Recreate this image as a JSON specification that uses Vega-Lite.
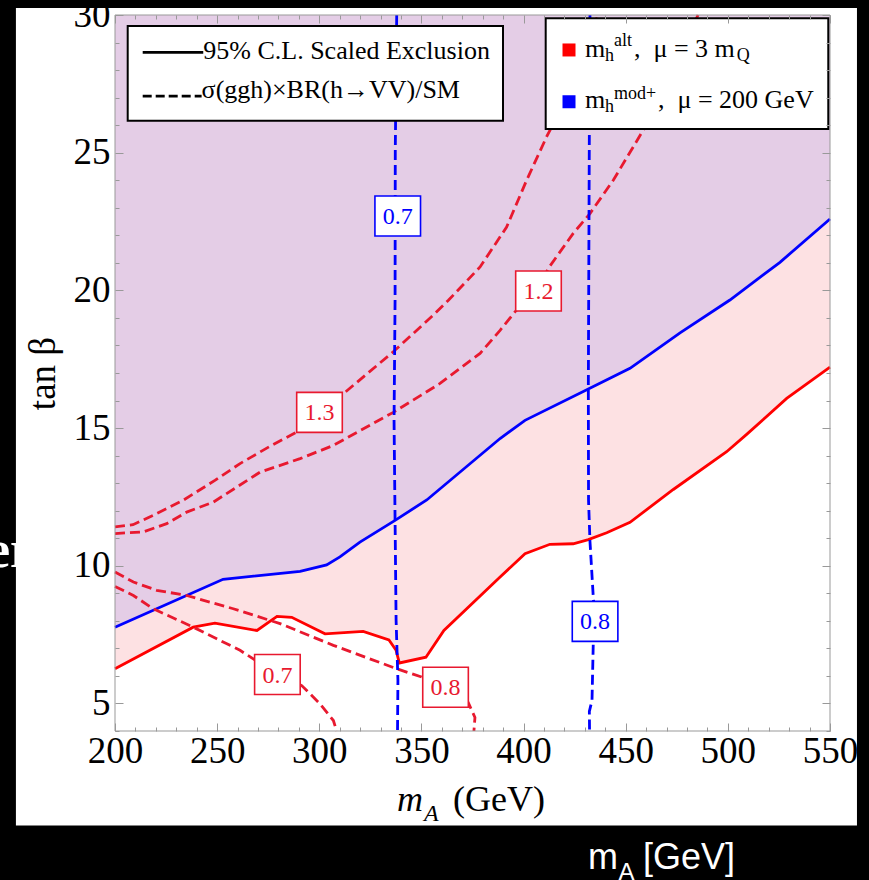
{
  "$schema": "https://vega.github.io/schema/vega-lite/v6.json",
  "width": 715,
  "height": 716,
  "autosize": {"type": "none"},
  "padding": {"left": 115, "top": 15, "right": 39, "bottom": 149},
  "background": "black",
  "config": {"view": {"stroke": null}, "font": "Liberation Serif"},
  "data": {"values": [{}]},
  "datasets": {
    "curves": [
      {"c": "alt-excl", "model": "alt", "kind": "excl", "i": 0, "x": 200, "y": 6.26},
      {"c": "alt-excl", "model": "alt", "kind": "excl", "i": 1, "x": 238.3, "y": 7.77},
      {"c": "alt-excl", "model": "alt", "kind": "excl", "i": 2, "x": 248.9, "y": 7.92},
      {"c": "alt-excl", "model": "alt", "kind": "excl", "i": 3, "x": 269.5, "y": 7.65},
      {"c": "alt-excl", "model": "alt", "kind": "excl", "i": 4, "x": 279.3, "y": 8.16},
      {"c": "alt-excl", "model": "alt", "kind": "excl", "i": 5, "x": 286.5, "y": 8.13},
      {"c": "alt-excl", "model": "alt", "kind": "excl", "i": 6, "x": 302.8, "y": 7.53},
      {"c": "alt-excl", "model": "alt", "kind": "excl", "i": 7, "x": 321.5, "y": 7.62},
      {"c": "alt-excl", "model": "alt", "kind": "excl", "i": 8, "x": 334.1, "y": 7.31},
      {"c": "alt-excl", "model": "alt", "kind": "excl", "i": 9, "x": 337.6, "y": 6.93},
      {"c": "alt-excl", "model": "alt", "kind": "excl", "i": 10, "x": 339.2, "y": 6.47},
      {"c": "alt-excl", "model": "alt", "kind": "excl", "i": 11, "x": 352.2, "y": 6.68},
      {"c": "alt-excl", "model": "alt", "kind": "excl", "i": 12, "x": 361.0, "y": 7.65},
      {"c": "alt-excl", "model": "alt", "kind": "excl", "i": 13, "x": 388.5, "y": 9.59},
      {"c": "alt-excl", "model": "alt", "kind": "excl", "i": 14, "x": 400.7, "y": 10.44},
      {"c": "alt-excl", "model": "alt", "kind": "excl", "i": 15, "x": 412.9, "y": 10.78},
      {"c": "alt-excl", "model": "alt", "kind": "excl", "i": 16, "x": 424.3, "y": 10.8},
      {"c": "alt-excl", "model": "alt", "kind": "excl", "i": 17, "x": 431.7, "y": 10.95},
      {"c": "alt-excl", "model": "alt", "kind": "excl", "i": 18, "x": 440.7, "y": 11.2},
      {"c": "alt-excl", "model": "alt", "kind": "excl", "i": 19, "x": 452.1, "y": 11.58},
      {"c": "alt-excl", "model": "alt", "kind": "excl", "i": 20, "x": 473.3, "y": 12.77},
      {"c": "alt-excl", "model": "alt", "kind": "excl", "i": 21, "x": 499.4, "y": 14.14},
      {"c": "alt-excl", "model": "alt", "kind": "excl", "i": 22, "x": 509.2, "y": 14.77},
      {"c": "alt-excl", "model": "alt", "kind": "excl", "i": 23, "x": 528.8, "y": 16.08},
      {"c": "alt-excl", "model": "alt", "kind": "excl", "i": 24, "x": 550, "y": 17.21},

      {"c": "mod-excl", "model": "mod", "kind": "excl", "i": 0, "x": 200, "y": 7.77},
      {"c": "mod-excl", "model": "mod", "kind": "excl", "i": 1, "x": 252.9, "y": 9.51},
      {"c": "mod-excl", "model": "mod", "kind": "excl", "i": 2, "x": 290.6, "y": 9.8},
      {"c": "mod-excl", "model": "mod", "kind": "excl", "i": 3, "x": 303.6, "y": 10.03},
      {"c": "mod-excl", "model": "mod", "kind": "excl", "i": 4, "x": 310.1, "y": 10.32},
      {"c": "mod-excl", "model": "mod", "kind": "excl", "i": 5, "x": 319.9, "y": 10.86},
      {"c": "mod-excl", "model": "mod", "kind": "excl", "i": 6, "x": 337.1, "y": 11.65},
      {"c": "mod-excl", "model": "mod", "kind": "excl", "i": 7, "x": 352.6, "y": 12.39},
      {"c": "mod-excl", "model": "mod", "kind": "excl", "i": 8, "x": 388.5, "y": 14.62},
      {"c": "mod-excl", "model": "mod", "kind": "excl", "i": 9, "x": 400.7, "y": 15.28},
      {"c": "mod-excl", "model": "mod", "kind": "excl", "i": 10, "x": 431.7, "y": 16.42},
      {"c": "mod-excl", "model": "mod", "kind": "excl", "i": 11, "x": 452.1, "y": 17.17},
      {"c": "mod-excl", "model": "mod", "kind": "excl", "i": 12, "x": 476.6, "y": 18.46},
      {"c": "mod-excl", "model": "mod", "kind": "excl", "i": 13, "x": 501.0, "y": 19.65},
      {"c": "mod-excl", "model": "mod", "kind": "excl", "i": 14, "x": 525.5, "y": 21.02},
      {"c": "mod-excl", "model": "mod", "kind": "excl", "i": 15, "x": 550, "y": 22.59},

      {"c": "alt-1.3", "model": "alt", "kind": "ratio", "i": 0, "x": 200, "y": 11.41},
      {"c": "alt-1.3", "model": "alt", "kind": "ratio", "i": 1, "x": 208.8, "y": 11.49},
      {"c": "alt-1.3", "model": "alt", "kind": "ratio", "i": 2, "x": 218.7, "y": 11.83},
      {"c": "alt-1.3", "model": "alt", "kind": "ratio", "i": 3, "x": 233.4, "y": 12.38},
      {"c": "alt-1.3", "model": "alt", "kind": "ratio", "i": 4, "x": 248.9, "y": 13.1},
      {"c": "alt-1.3", "model": "alt", "kind": "ratio", "i": 5, "x": 261.2, "y": 13.71},
      {"c": "alt-1.3", "model": "alt", "kind": "ratio", "i": 6, "x": 275.9, "y": 14.34},
      {"c": "alt-1.3", "model": "alt", "kind": "ratio", "i": 7, "x": 289.1, "y": 14.86},
      {"c": "alt-1.3", "model": "alt", "kind": "ratio", "i": 8, "x": 300.1, "y": 15.55},
      {"c": "alt-1.3", "model": "alt", "kind": "ratio", "i": 9, "x": 311.8, "y": 16.25},
      {"c": "alt-1.3", "model": "alt", "kind": "ratio", "i": 10, "x": 336.2, "y": 17.77},
      {"c": "alt-1.3", "model": "alt", "kind": "ratio", "i": 11, "x": 355.8, "y": 19.1},
      {"c": "alt-1.3", "model": "alt", "kind": "ratio", "i": 12, "x": 363.2, "y": 19.64},
      {"c": "alt-1.3", "model": "alt", "kind": "ratio", "i": 13, "x": 378.7, "y": 20.85},
      {"c": "alt-1.3", "model": "alt", "kind": "ratio", "i": 14, "x": 391.7, "y": 22.3},
      {"c": "alt-1.3", "model": "alt", "kind": "ratio", "i": 15, "x": 401.5, "y": 24.0},
      {"c": "alt-1.3", "model": "alt", "kind": "ratio", "i": 16, "x": 411.3, "y": 25.58},
      {"c": "alt-1.3", "model": "alt", "kind": "ratio", "i": 17, "x": 425.2, "y": 27.6},
      {"c": "alt-1.3", "model": "alt", "kind": "ratio", "i": 18, "x": 436.4, "y": 30},

      {"c": "alt-1.2", "model": "alt", "kind": "ratio", "i": 0, "x": 200, "y": 11.17},
      {"c": "alt-1.2", "model": "alt", "kind": "ratio", "i": 1, "x": 213.9, "y": 11.23},
      {"c": "alt-1.2", "model": "alt", "kind": "ratio", "i": 2, "x": 225.3, "y": 11.53},
      {"c": "alt-1.2", "model": "alt", "kind": "ratio", "i": 3, "x": 235.1, "y": 11.95},
      {"c": "alt-1.2", "model": "alt", "kind": "ratio", "i": 4, "x": 248.1, "y": 12.31},
      {"c": "alt-1.2", "model": "alt", "kind": "ratio", "i": 5, "x": 271.0, "y": 13.4},
      {"c": "alt-1.2", "model": "alt", "kind": "ratio", "i": 6, "x": 290.6, "y": 13.89},
      {"c": "alt-1.2", "model": "alt", "kind": "ratio", "i": 7, "x": 306.9, "y": 14.37},
      {"c": "alt-1.2", "model": "alt", "kind": "ratio", "i": 8, "x": 336.2, "y": 15.57},
      {"c": "alt-1.2", "model": "alt", "kind": "ratio", "i": 9, "x": 359.1, "y": 16.62},
      {"c": "alt-1.2", "model": "alt", "kind": "ratio", "i": 10, "x": 378.7, "y": 17.71},
      {"c": "alt-1.2", "model": "alt", "kind": "ratio", "i": 11, "x": 388.5, "y": 18.55},
      {"c": "alt-1.2", "model": "alt", "kind": "ratio", "i": 12, "x": 395.8, "y": 19.22},
      {"c": "alt-1.2", "model": "alt", "kind": "ratio", "i": 13, "x": 407.3, "y": 20.05},
      {"c": "alt-1.2", "model": "alt", "kind": "ratio", "i": 14, "x": 412.1, "y": 20.8},
      {"c": "alt-1.2", "model": "alt", "kind": "ratio", "i": 15, "x": 424.3, "y": 22.07},
      {"c": "alt-1.2", "model": "alt", "kind": "ratio", "i": 16, "x": 432.5, "y": 22.79},
      {"c": "alt-1.2", "model": "alt", "kind": "ratio", "i": 17, "x": 443.9, "y": 24.0},
      {"c": "alt-1.2", "model": "alt", "kind": "ratio", "i": 18, "x": 458.6, "y": 25.82},
      {"c": "alt-1.2", "model": "alt", "kind": "ratio", "i": 19, "x": 472.7, "y": 28.0},
      {"c": "alt-1.2", "model": "alt", "kind": "ratio", "i": 20, "x": 485.4, "y": 30},

      {"c": "alt-0.8", "model": "alt", "kind": "ratio", "i": 0, "x": 200, "y": 9.77},
      {"c": "alt-0.8", "model": "alt", "kind": "ratio", "i": 1, "x": 209.0, "y": 9.41},
      {"c": "alt-0.8", "model": "alt", "kind": "ratio", "i": 2, "x": 220.4, "y": 9.11},
      {"c": "alt-0.8", "model": "alt", "kind": "ratio", "i": 3, "x": 235.1, "y": 8.92},
      {"c": "alt-0.8", "model": "alt", "kind": "ratio", "i": 4, "x": 257.9, "y": 8.44},
      {"c": "alt-0.8", "model": "alt", "kind": "ratio", "i": 5, "x": 280.8, "y": 7.9},
      {"c": "alt-0.8", "model": "alt", "kind": "ratio", "i": 6, "x": 306.9, "y": 7.11},
      {"c": "alt-0.8", "model": "alt", "kind": "ratio", "i": 7, "x": 337.9, "y": 6.26},
      {"c": "alt-0.8", "model": "alt", "kind": "ratio", "i": 8, "x": 350.1, "y": 5.96},
      {"c": "alt-0.8", "model": "alt", "kind": "ratio", "i": 9, "x": 361.8, "y": 5.59},
      {"c": "alt-0.8", "model": "alt", "kind": "ratio", "i": 10, "x": 372.9, "y": 5.04},
      {"c": "alt-0.8", "model": "alt", "kind": "ratio", "i": 11, "x": 376.2, "y": 4.49},
      {"c": "alt-0.8", "model": "alt", "kind": "ratio", "i": 12, "x": 375.7, "y": 4.0},

      {"c": "alt-0.7", "model": "alt", "kind": "ratio", "i": 0, "x": 200, "y": 9.25},
      {"c": "alt-0.7", "model": "alt", "kind": "ratio", "i": 1, "x": 209.0, "y": 8.92},
      {"c": "alt-0.7", "model": "alt", "kind": "ratio", "i": 2, "x": 218.7, "y": 8.44},
      {"c": "alt-0.7", "model": "alt", "kind": "ratio", "i": 3, "x": 238.3, "y": 7.77},
      {"c": "alt-0.7", "model": "alt", "kind": "ratio", "i": 4, "x": 249.8, "y": 7.35},
      {"c": "alt-0.7", "model": "alt", "kind": "ratio", "i": 5, "x": 261.2, "y": 6.93},
      {"c": "alt-0.7", "model": "alt", "kind": "ratio", "i": 6, "x": 279.5, "y": 6.05},
      {"c": "alt-0.7", "model": "alt", "kind": "ratio", "i": 7, "x": 291.4, "y": 5.65},
      {"c": "alt-0.7", "model": "alt", "kind": "ratio", "i": 8, "x": 300.3, "y": 4.99},
      {"c": "alt-0.7", "model": "alt", "kind": "ratio", "i": 9, "x": 306.9, "y": 4.38},
      {"c": "alt-0.7", "model": "alt", "kind": "ratio", "i": 10, "x": 308.5, "y": 4.0},

      {"c": "mod-0.7", "model": "mod", "kind": "ratio", "i": 0, "x": 337.9, "y": 30},
      {"c": "mod-0.7", "model": "mod", "kind": "ratio", "i": 1, "x": 337.2, "y": 25.1},
      {"c": "mod-0.7", "model": "mod", "kind": "ratio", "i": 2, "x": 337.1, "y": 19.64},
      {"c": "mod-0.7", "model": "mod", "kind": "ratio", "i": 3, "x": 336.6, "y": 15.28},
      {"c": "mod-0.7", "model": "mod", "kind": "ratio", "i": 4, "x": 337.1, "y": 11.65},
      {"c": "mod-0.7", "model": "mod", "kind": "ratio", "i": 5, "x": 337.6, "y": 8.02},
      {"c": "mod-0.7", "model": "mod", "kind": "ratio", "i": 6, "x": 338.5, "y": 5.84},
      {"c": "mod-0.7", "model": "mod", "kind": "ratio", "i": 7, "x": 338.3, "y": 4.0},

      {"c": "mod-0.8", "model": "mod", "kind": "ratio", "i": 0, "x": 432.5, "y": 30},
      {"c": "mod-0.8", "model": "mod", "kind": "ratio", "i": 1, "x": 432.2, "y": 25.82},
      {"c": "mod-0.8", "model": "mod", "kind": "ratio", "i": 2, "x": 431.7, "y": 16.41},
      {"c": "mod-0.8", "model": "mod", "kind": "ratio", "i": 3, "x": 431.8, "y": 12.38},
      {"c": "mod-0.8", "model": "mod", "kind": "ratio", "i": 4, "x": 432.5, "y": 10.89},
      {"c": "mod-0.8", "model": "mod", "kind": "ratio", "i": 5, "x": 434.1, "y": 8.89},
      {"c": "mod-0.8", "model": "mod", "kind": "ratio", "i": 6, "x": 435.0, "y": 7.98},
      {"c": "mod-0.8", "model": "mod", "kind": "ratio", "i": 7, "x": 434.1, "y": 7.14},
      {"c": "mod-0.8", "model": "mod", "kind": "ratio", "i": 8, "x": 433.5, "y": 5.11},
      {"c": "mod-0.8", "model": "mod", "kind": "ratio", "i": 9, "x": 432.2, "y": 4.71},
      {"c": "mod-0.8", "model": "mod", "kind": "ratio", "i": 10, "x": 432.3, "y": 4.0}
    ],
    "contourLabels": [
      {"model": "alt", "x": 300.1, "y": 15.57, "text": "1.3"},
      {"model": "alt", "x": 407.3, "y": 19.98, "text": "1.2"},
      {"model": "alt", "x": 279.5, "y": 6.05, "text": "0.7"},
      {"model": "alt", "x": 361.8, "y": 5.59, "text": "0.8"},
      {"model": "mod", "x": 338.4, "y": 22.7, "text": "0.7"},
      {"model": "mod", "x": 435.0, "y": 7.98, "text": "0.8"}
    ],
    "legendKeys": [
      {"model": "alt", "x": 422.24, "y": 28.73},
      {"model": "mod", "x": 422.24, "y": 26.85}
    ],
    "legendText": [
      {"x": 243.2, "y": 28.39, "text": "95% C.L. Scaled Exclusion", "role": "main"},
      {"x": 242.4, "y": 26.97, "text": "σ(ggh)×BR(h→VV)/SM", "role": "main"},
      {"x": 430.07, "y": 28.474, "text": "m", "role": "main"},
      {"x": 439.86, "y": 28.328, "text": "h", "role": "sub"},
      {"x": 444.27, "y": 28.892, "text": "alt", "role": "sub"},
      {"x": 454.06, "y": 28.474, "text": ",\u00a0\u00a0μ = 3 m", "role": "main"},
      {"x": 504.3, "y": 28.328, "text": "Q", "role": "sub"},
      {"x": 430.07, "y": 26.639, "text": "m", "role": "main"},
      {"x": 439.86, "y": 26.475, "text": "h", "role": "sub"},
      {"x": 444.27, "y": 26.966, "text": "mod+", "role": "sub"},
      {"x": 465.8, "y": 26.639, "text": ",\u00a0\u00a0μ = 200 GeV", "role": "main"}
    ]
  },
  "layer": [
    {
      "mark": {"type": "text", "text": "er", "font": "Liberation Serif", "fontSize": 52, "fontWeight": "bold", "color": "white", "align": "left", "baseline": "alphabetic"},
      "encoding": {
        "x": {"datum": 137.3, "type": "quantitative", "scale": {"domain": [200, 550], "nice": false, "zero": false}, "axis": null},
        "y": {"datum": 9.94, "type": "quantitative", "scale": {"domain": [4, 30], "nice": false, "zero": false}, "axis": null}
      }
    },
    {
      "mark": {"type": "rect", "color": "white"},
      "encoding": {
        "x": {"datum": 151.5, "type": "quantitative", "axis": null},
        "x2": {"datum": 563.2},
        "y": {"datum": 30.254, "type": "quantitative", "axis": null},
        "y2": {"datum": 0.567}
      }
    },
    {
      "data": {"name": "curves"},
      "transform": [{"filter": "datum.c === 'alt-excl'"}],
      "mark": {"type": "area", "color": "#fde1e3"},
      "encoding": {
        "x": {
          "field": "x", "type": "quantitative",
          "scale": {"domain": [200, 550], "nice": false, "zero": false},
          "axis": {
            "orient": "bottom",
            "values": [200, 210, 220, 230, 240, 250, 260, 270, 280, 290, 300, 310, 320, 330, 340, 350, 360, 370, 380, 390, 400, 410, 420, 430, 440, 450, 460, 470, 480, 490, 500, 510, 520, 530, 540, 550],
            "labelExpr": "datum.value % 50 === 0 ? datum.label : ''",
            "tickSize": {"condition": {"test": "datum.value % 50 === 0", "value": -8}, "value": -4},
            "tickColor": "#999999", "tickWidth": 1,
            "domain": false, "grid": false,
            "labelFont": "Liberation Serif", "labelFontSize": 37, "labelColor": "black",
            "labelPadding": 10, "labelOverlap": false, "labelFlush": false,
            "title": null, "zindex": 1
          }
        },
        "y": {
          "field": "y", "type": "quantitative",
          "scale": {"domain": [4, 30], "nice": false, "zero": false},
          "axis": {
            "orient": "left",
            "values": [4, 5, 6, 7, 8, 9, 10, 11, 12, 13, 14, 15, 16, 17, 18, 19, 20, 21, 22, 23, 24, 25, 26, 27, 28, 29, 30],
            "labelExpr": "datum.value % 5 === 0 ? datum.label : ''",
            "tickSize": {"condition": {"test": "datum.value % 5 === 0", "value": -8}, "value": -4},
            "tickColor": "#999999", "tickWidth": 1,
            "domain": false, "grid": false,
            "labelFont": "Liberation Serif", "labelFontSize": 37, "labelColor": "black",
            "labelPadding": 13, "labelOverlap": false, "labelFlush": false,
            "title": "tan β", "titleFont": "Liberation Serif", "titleFontSize": 37, "titleFontWeight": "normal", "titleColor": "black", "titlePadding": 11,
            "zindex": 1
          }
        },
        "y2": {"datum": 30}
      }
    },
    {
      "data": {"name": "curves"},
      "transform": [{"filter": "datum.c === 'mod-excl'"}],
      "mark": {"type": "area", "color": "#e4cde6"},
      "encoding": {
        "x": {
          "field": "x", "type": "quantitative",
          "axis": {
            "orient": "top",
            "values": [200, 210, 220, 230, 240, 250, 260, 270, 280, 290, 300, 310, 320, 330, 340, 350, 360, 370, 380, 390, 400, 410, 420, 430, 440, 450, 460, 470, 480, 490, 500, 510, 520, 530, 540, 550],
            "labels": false,
            "tickSize": {"condition": {"test": "datum.value % 50 === 0", "value": -8}, "value": -4},
            "tickColor": "#999999", "tickWidth": 1,
            "domain": false, "grid": false, "title": null, "zindex": 1
          }
        },
        "y": {
          "field": "y", "type": "quantitative",
          "axis": {
            "orient": "right",
            "values": [4, 5, 6, 7, 8, 9, 10, 11, 12, 13, 14, 15, 16, 17, 18, 19, 20, 21, 22, 23, 24, 25, 26, 27, 28, 29, 30],
            "labels": false,
            "tickSize": {"condition": {"test": "datum.value % 5 === 0", "value": -8}, "value": -4},
            "tickColor": "#999999", "tickWidth": 1,
            "domain": false, "grid": false, "title": null, "zindex": 1
          }
        },
        "y2": {"datum": 30}
      }
    },
    {
      "data": {"name": "curves"},
      "transform": [{"filter": "datum.kind === 'excl'"}],
      "mark": {"type": "line", "strokeWidth": 2.8},
      "encoding": {
        "x": {"field": "x", "type": "quantitative", "axis": null},
        "y": {"field": "y", "type": "quantitative", "axis": null},
        "color": {"field": "model", "type": "nominal", "scale": {"domain": ["alt", "mod"], "range": ["#ff0000", "#0000ff"]}, "legend": null},
        "detail": {"field": "c"},
        "order": {"field": "i", "type": "quantitative"}
      }
    },
    {
      "data": {"name": "curves"},
      "transform": [{"filter": "datum.kind === 'ratio'"}],
      "mark": {"type": "line", "strokeWidth": 2.8, "strokeDash": [10, 5]},
      "encoding": {
        "x": {"field": "x", "type": "quantitative", "axis": null},
        "y": {"field": "y", "type": "quantitative", "axis": null},
        "color": {"condition": {"test": "datum.model === 'alt'", "value": "#e8192f"}, "value": "#0000ff"},
        "detail": {"field": "c"},
        "order": {"field": "i", "type": "quantitative"}
      }
    },
    {
      "mark": {"type": "rect", "fill": null, "stroke": "#999999", "strokeWidth": 1},
      "encoding": {
        "x": {"datum": 200, "type": "quantitative", "axis": null},
        "x2": {"datum": 550},
        "y": {"datum": 4, "type": "quantitative", "axis": null},
        "y2": {"datum": 30}
      }
    },
    {
      "data": {"name": "contourLabels"},
      "mark": {"type": "point", "shape": "M-1.14,-1H1.14V1H-1.14Z", "size": 1600, "fill": "white", "fillOpacity": 1, "opacity": 1, "strokeWidth": 1.6},
      "encoding": {
        "x": {"field": "x", "type": "quantitative", "axis": null},
        "y": {"field": "y", "type": "quantitative", "axis": null},
        "stroke": {"condition": {"test": "datum.model === 'alt'", "value": "#e8192f"}, "value": "#0000ff"}
      }
    },
    {
      "data": {"name": "contourLabels"},
      "mark": {"type": "text", "font": "Liberation Serif", "fontSize": 24, "align": "center", "baseline": "middle", "dy": 1},
      "encoding": {
        "x": {"field": "x", "type": "quantitative", "axis": null},
        "y": {"field": "y", "type": "quantitative", "axis": null},
        "text": {"field": "text"},
        "color": {"condition": {"test": "datum.model === 'alt'", "value": "#e8192f"}, "value": "#0000ff"}
      }
    },
    {
      "mark": {"type": "rect", "fill": "white", "stroke": "black", "strokeWidth": 2},
      "encoding": {
        "x": {"datum": 206.22, "type": "quantitative", "axis": null},
        "x2": {"datum": 389.93},
        "y": {"datum": 29.6, "type": "quantitative", "axis": null},
        "y2": {"datum": 26.16}
      }
    },
    {
      "mark": {"type": "rect", "fill": "white", "stroke": "black", "strokeWidth": 2},
      "encoding": {
        "x": {"datum": 410.83, "type": "quantitative", "axis": null},
        "x2": {"datum": 549.16},
        "y": {"datum": 29.88, "type": "quantitative", "axis": null},
        "y2": {"datum": 25.857}
      }
    },
    {
      "mark": {"type": "rule", "color": "black", "strokeWidth": 2.7},
      "encoding": {
        "x": {"datum": 213.56, "type": "quantitative", "axis": null},
        "x2": {"datum": 243.2},
        "y": {"datum": 28.645, "type": "quantitative", "axis": null}
      }
    },
    {
      "mark": {"type": "rule", "color": "black", "strokeWidth": 2.7, "strokeDash": [9, 4]},
      "encoding": {
        "x": {"datum": 213.56, "type": "quantitative", "axis": null},
        "x2": {"datum": 242.4},
        "y": {"datum": 27.057, "type": "quantitative", "axis": null}
      }
    },
    {
      "data": {"name": "legendKeys"},
      "mark": {"type": "point", "shape": "square", "size": 169, "filled": true, "opacity": 1},
      "encoding": {
        "x": {"field": "x", "type": "quantitative", "axis": null},
        "y": {"field": "y", "type": "quantitative", "axis": null},
        "color": {"field": "model", "type": "nominal", "legend": null}
      }
    },
    {
      "data": {"name": "legendText"},
      "transform": [{"filter": "datum.role === 'main'"}],
      "mark": {"type": "text", "font": "Liberation Serif", "fontSize": 26, "align": "left", "baseline": "alphabetic", "color": "black"},
      "encoding": {
        "x": {"field": "x", "type": "quantitative", "axis": null},
        "y": {"field": "y", "type": "quantitative", "axis": null},
        "text": {"field": "text"}
      }
    },
    {
      "data": {"name": "legendText"},
      "transform": [{"filter": "datum.role === 'sub'"}],
      "mark": {"type": "text", "font": "Liberation Serif", "fontSize": 18, "align": "left", "baseline": "alphabetic", "color": "black"},
      "encoding": {
        "x": {"field": "x", "type": "quantitative", "axis": null},
        "y": {"field": "y", "type": "quantitative", "axis": null},
        "text": {"field": "text"}
      }
    },
    {
      "mark": {"type": "text", "text": "m", "font": "Liberation Serif", "fontSize": 36, "fontStyle": "italic", "align": "left", "baseline": "alphabetic", "color": "black"},
      "encoding": {
        "x": {"datum": 338.04, "type": "quantitative", "axis": null},
        "y": {"datum": 1.112, "type": "quantitative", "axis": null}
      }
    },
    {
      "mark": {"type": "text", "text": "A", "font": "Liberation Serif", "fontSize": 24, "fontStyle": "italic", "align": "left", "baseline": "alphabetic", "color": "black"},
      "encoding": {
        "x": {"datum": 351.26, "type": "quantitative", "axis": null},
        "y": {"datum": 0.749, "type": "quantitative", "axis": null}
      }
    },
    {
      "mark": {"type": "text", "text": "(GeV)", "font": "Liberation Serif", "fontSize": 36, "align": "left", "baseline": "alphabetic", "color": "black"},
      "encoding": {
        "x": {"datum": 365.45, "type": "quantitative", "axis": null},
        "y": {"datum": 1.112, "type": "quantitative", "axis": null}
      }
    },
    {
      "mark": {"type": "text", "text": "m", "font": "Liberation Sans", "fontSize": 36, "align": "left", "baseline": "alphabetic", "color": "white"},
      "encoding": {
        "x": {"datum": 431.53, "type": "quantitative", "axis": null},
        "y": {"datum": -0.995, "type": "quantitative", "axis": null}
      }
    },
    {
      "mark": {"type": "text", "text": "A", "font": "Liberation Sans", "fontSize": 24, "align": "left", "baseline": "alphabetic", "color": "white"},
      "encoding": {
        "x": {"datum": 446.5, "type": "quantitative", "axis": null},
        "y": {"datum": -1.395, "type": "quantitative", "axis": null}
      }
    },
    {
      "mark": {"type": "text", "text": "[GeV]", "font": "Liberation Sans", "fontSize": 36, "align": "left", "baseline": "alphabetic", "color": "white"},
      "encoding": {
        "x": {"datum": 458.5, "type": "quantitative", "axis": null},
        "y": {"datum": -0.995, "type": "quantitative", "axis": null}
      }
    }
  ],
  "resolve": {"axis": {"x": "independent", "y": "independent"}}
}
